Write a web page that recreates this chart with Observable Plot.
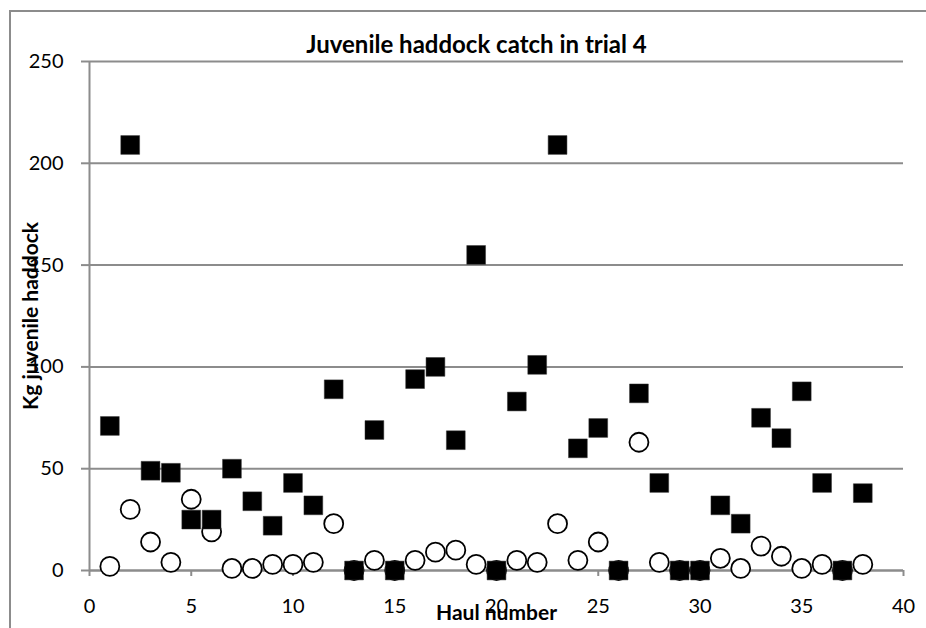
<!DOCTYPE html>
<html>
<head>
<meta charset="utf-8">
<script src="https://cdn.jsdelivr.net/npm/d3@7"></script>
<script src="https://cdn.jsdelivr.net/npm/@observablehq/plot@0.6"></script>
<style>
  html, body { margin: 0; padding: 0; background: #fff; }
  #wrap { position: relative; width: 926px; height: 628px; overflow: hidden; }
  #border { position: absolute; left: 9px; top: 10px; width: 1000px; height: 1000px;
            border-left: 2px solid #8c8c8c; border-top: 2px solid #8c8c8c; }
  #chart { position: absolute; left: 0; top: 0; }
</style>
</head>
<body>
<div id="wrap"><div id="border"></div><div id="chart"></div></div>
<script>
const titleText = "Juvenile haddock catch in trial 4";
const xLabel = "Haul number";
const yLabel = "Kg juvenile haddock";
const xTicks = [0, 5, 10, 15, 20, 25, 30, 35, 40];
const yTicks = [0, 50, 100, 150, 200, 250];

const hauls = [1,2,3,4,5,6,7,8,9,10,11,12,13,14,15,16,17,18,19,20,21,22,23,24,25,26,27,28,29,30,31,32,33,34,35,36,37,38];
const squareKg = [71,209,49,48,25,25,50,34,22,43,32,89,0,69,0,94,100,64,155,0,83,101,209,60,70,0,87,43,0,0,32,23,75,65,88,43,0,38];
const circleKg = [2,30,14,4,35,19,1,1,3,3,4,23,0,5,0,5,9,10,3,0,5,4,23,5,14,0,63,4,0,0,6,1,12,7,1,3,0,3];

const squares = hauls.map((h, i) => ({haul: h, kg: squareKg[i]}));
const circles = hauls.map((h, i) => ({haul: h, kg: circleKg[i]}));

const font = "Lato, 'Open Sans', sans-serif";
const gray = "#8c8c8c";

const chart = Plot.plot({
  width: 926,
  height: 628,
  marginLeft: 89,
  marginRight: 23,
  marginTop: 61,
  marginBottom: 58,
  style: {fontFamily: font, fontSize: "20px", color: "#000", background: "transparent", overflow: "visible"},
  x: {domain: [0, 40]},
  y: {domain: [0, 250]},
  marks: [
    Plot.gridY(yTicks, {stroke: gray, strokeOpacity: 1, strokeWidth: 2}),
    Plot.ruleX([0], {stroke: gray, strokeWidth: 2}),
    Plot.ruleY([0], {stroke: gray, strokeWidth: 2}),
    Plot.axisY(yTicks, {tickSize: 8, tickPadding: 18, stroke: gray, strokeWidth: 2, label: null, fontSize: 20, letterSpacing: "1.8px"}),
    Plot.axisX(xTicks, {tickSize: 6, tickPadding: 22, stroke: gray, strokeWidth: 2, label: null, fontSize: 20, letterSpacing: "1.8px"}),
    Plot.dot(circles, {x: "haul", y: "kg", symbol: "circle", r: 9.5, stroke: "#000", strokeWidth: 1.8, fill: "#fff"}),
    Plot.dot(squares, {x: "haul", y: "kg", symbol: "square", r: 10.6, fill: "#000", stroke: "#333", strokeWidth: 0.5}),
    Plot.text([titleText], {frameAnchor: "top", textAnchor: "middle", dx: -20, dy: -26, fontWeight: "bold", fontSize: 24, letterSpacing: "0.4px", fill: "#000"}),
    Plot.text([yLabel], {frameAnchor: "left", textAnchor: "middle", dx: -58, rotate: -90, fontWeight: "bold", fontSize: 21, letterSpacing: "1px", fill: "#000"}),
    Plot.text([xLabel], {frameAnchor: "bottom", textAnchor: "middle", dy: 49, fontWeight: "bold", fontSize: 21, letterSpacing: "1px", fill: "#000"})
  ]
});
document.getElementById("chart").appendChild(chart);
</script>
</body>
</html>
